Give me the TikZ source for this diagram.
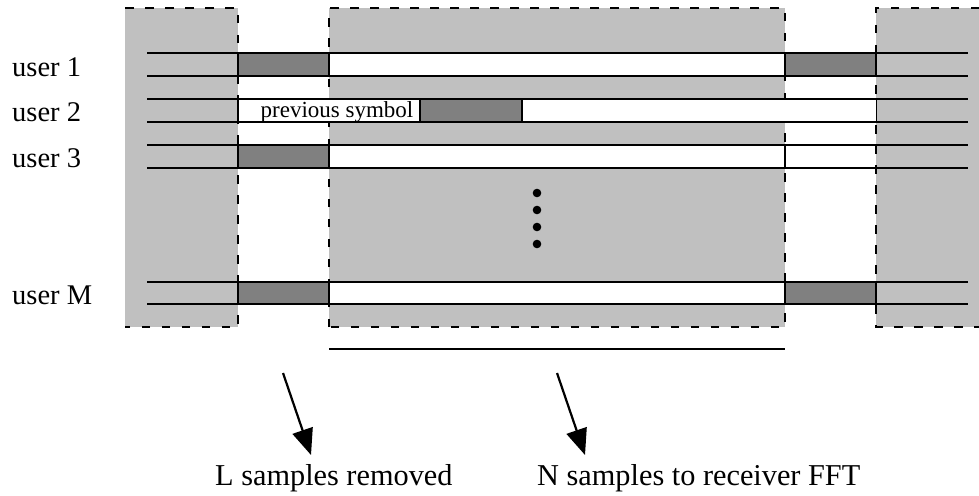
\documentclass[tikz,border=0pt]{standalone}
\usepackage{fontspec}
\setmainfont{Liberation Serif}
\usetikzlibrary{arrows.meta}
\definecolor{shade}{RGB}{192,192,192}
\definecolor{darkbox}{RGB}{128,128,128}
\begin{document}
\begin{tikzpicture}[x=1pt,y=-1pt,
  region/.style={fill=shade,draw=none},
  border/.style={dash pattern=on 8.5pt off 11.5pt,line width=2.8pt},
  rowline/.style={line width=2.4pt},
  edge/.style={line width=2.6pt},
  slot/.style={fill=white,draw=none},
  cpbox/.style={fill=darkbox,draw=none},
  userlabel/.style={anchor=base west,inner sep=0pt,font=\fontsize{28.5}{30}\selectfont},
  bottomlabel/.style={anchor=base west,inner sep=0pt,font=\fontsize{30.3}{32}\selectfont},
  pointer/.style={-{Triangle[length=26pt,width=21pt]},line width=2.2pt},
  dotmark/.style={fill=black}]
\useasboundingbox (0,0) rectangle (979,495);
% shaded regions
\fill[region] (125,8) rectangle (238,327);
\fill[region] (329,8) rectangle (785,327);
\fill[region] (876,8) rectangle (979,327);
% dashed borders
\draw[border] (125,8) -- (238,8) -- (238,327) -- (125,327);
\draw[border] (329,327) -- (329,8) -- (785,8) -- (785,327) -- cycle;
\draw[border] (979,8) -- (876,8) -- (876,327) -- (979,327);
% white symbol slots
\fill[slot] (329,53) rectangle (785,76);
\fill[slot] (238,99) rectangle (876,122);
\fill[slot] (329,145) rectangle (785,168);
\fill[slot] (329,282) rectangle (785,304);
% cyclic prefix boxes
\fill[cpbox] (238,53) rectangle (329,76);
\fill[cpbox] (785,53) rectangle (876,76);
\fill[cpbox] (420,99) rectangle (522,122);
\fill[cpbox] (238,145) rectangle (329,168);
\fill[cpbox] (238,282) rectangle (329,304);
\fill[cpbox] (785,282) rectangle (876,304);
% row lines
\foreach \y in {53,76,99,122,145,168,282,304}
  \draw[rowline] (147,\y) -- (968,\y);
% vertical edges
\foreach \x in {238,329,785,876} {
  \draw[edge] (\x,53) -- (\x,76);
  \draw[edge] (\x,282) -- (\x,304);
}
\foreach \x in {238,329,785}
  \draw[edge] (\x,145) -- (\x,168);
\foreach \x in {238,420,522}
  \draw[edge] (\x,99) -- (\x,122);
\draw[line width=0.8pt] (876,99) -- (876,122);
% previous symbol text
\node[anchor=base,inner sep=0pt,font=\fontsize{23}{25}\selectfont] (prev) at (337,117) {previous symbol};
% dots
\foreach \y in {193,210,227,244}
  \fill[dotmark] (537,\y) circle (4.3);
% labels
\node[userlabel] (u1) at (12,76) {user 1};
\node[userlabel] (u2) at (12,121) {user 2};
\node[userlabel] (u3) at (12,167) {user 3};
\node[userlabel] (uM) at (12,304) {user M};
% N span line
\coordinate (spanL) at (329,349);
\coordinate (spanR) at (785,349);
\draw[line width=2pt] (spanL) -- (spanR);
% arrows
\node[bottomlabel] (lrem) at (215,485) {L samples removed};
\node[bottomlabel] (nfft) at (537,485) {N samples to receiver FFT};
\coordinate (a1s) at (283,373);
\coordinate (a1e) at (311,455);
\coordinate (a2s) at (557,373);
\coordinate (a2e) at (585,455);
\draw[pointer] (a1s) -- (a1e);
\draw[pointer] (a2s) -- (a2e);
\end{tikzpicture}
\end{document}
